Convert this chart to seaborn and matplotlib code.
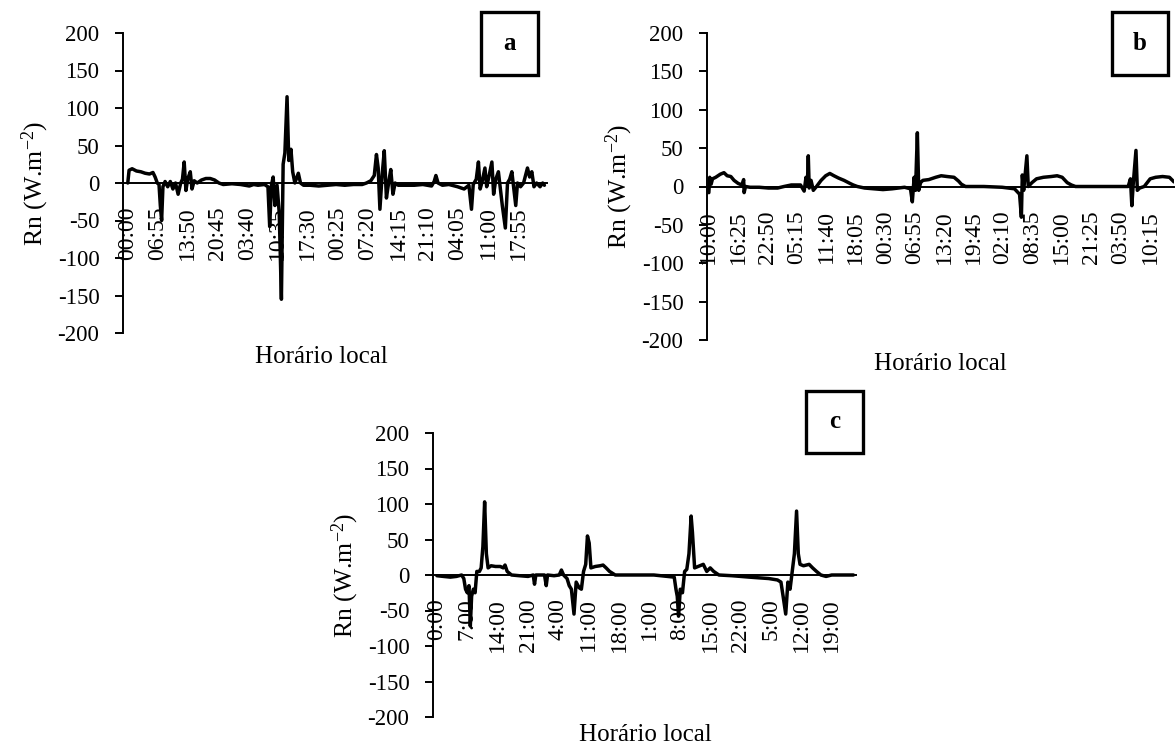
import numpy as np
import pandas as pd
import matplotlib
matplotlib.use("Agg")
import matplotlib.pyplot as plt
import seaborn as sns
from matplotlib.patches import Rectangle

# ---------------- data (hours since start of record, Rn in W.m-2) ----------------
hours_a = [0.0, 0.3, 1.0, 2.0, 3.0, 4.0, 5.0, 5.8, 6.3, 6.8, 7.2, 7.5, 7.8, 8.1, 8.6, 9.2, 9.8,
           10.4, 11.0, 11.6, 12.2, 12.6, 13.0, 13.4, 13.8, 14.4, 14.8, 15.3, 16.0, 17.0, 18.0,
           19.0, 20.0, 21.0, 22.0, 24.0, 26.0, 28.0, 29.0, 30.0, 31.5, 32.3, 32.7, 33.1, 33.5,
           33.9, 34.4, 34.9, 35.4, 35.8, 36.2, 36.7, 37.1, 37.6, 38.0, 38.5, 39.3, 39.8, 40.5,
           42.0, 44.0, 46.0, 48.0, 50.0, 52.0, 54.0, 55.0, 56.0, 56.8, 57.3, 57.7, 58.1, 58.6,
           59.1, 59.6, 60.1, 60.6, 61.1, 61.6, 62.3, 64.0, 66.0, 68.0, 70.0, 70.6, 71.0, 71.5,
           72.5, 74.0, 76.0, 77.5, 78.6, 79.2, 79.6, 80.3, 80.8, 81.2, 81.7, 82.3, 82.7, 83.2,
           83.9, 84.3, 84.8, 85.4, 85.8, 86.3, 87.0, 87.5, 88.0, 88.5, 88.9, 89.4, 89.8, 90.5,
           91.2, 92.1, 92.6, 93.1, 93.6, 94.2, 95.0, 95.6, 96.0]
rn_a = [0, 17, 19, 16, 15, 13, 12, 14, 8, 0, -2, -30, -50, -5, 2, -5, 2,
        -8, 0, -15, 0, 5, 28, -10, 5, 15, -8, 3, 0, 4, 6,
        6, 4, 0, -2, -1, -2, -4, -2, -3, -2, -5, -58, -3, 8,
        -30, -3, -40, -155, 25, 40, 115, 30, 45, 15, 0, 13, 0, -3,
        -3, -4, -3, -2, -3, -2, -2, 0, 3, 10, 38, 20, -35, 10,
        43, -20, 0, 18, -15, 0, -3, -3, -3, -2, -4, 2, 10, 0,
        -3, -2, -5, -8, -3, -35, -2, 5, 28, -8, 3, 20, -5, 8,
        28, -15, 5, 15, -5, -30, -60, 0, 5, 15, -5, -30, 0, -5,
        0, 20, 8, 15, -5, 0, -5, 0, -3]

hours_b = [0.0, 0.2, 0.5, 0.8, 1.5, 2.5, 3.3, 4.0, 4.8, 5.5, 6.4, 7.2, 7.6, 7.7, 8.0, 9.0, 11.0,
           13.0, 15.0, 16.4, 18.0, 20.0, 20.8, 21.2, 21.5, 21.7, 21.9, 22.3, 22.8, 23.5, 24.5,
           25.5, 26.4, 27.3, 28.3, 29.5, 30.8, 31.5, 32.4, 34.0, 36.0, 38.0, 40.0, 42.7, 44.0,
           44.4, 44.8, 45.1, 45.5, 45.8, 46.2, 46.7, 48.0, 49.5, 50.7, 52.0, 53.5, 54.5, 55.1,
           56.0, 60.0, 64.0, 66.7, 67.8, 68.2, 68.4, 68.7, 69.4, 69.7, 70.5, 71.5, 73.0, 74.7,
           76.0, 77.1, 78.2, 79.1, 80.0, 84.0, 88.0, 91.5, 92.0, 92.3, 92.6, 93.2, 93.5, 94.0,
           95.0, 96.3, 97.5, 99.0, 100.5, 101.5]
rn_b = [-8, 12, 3, 10, 12, 16, 18, 14, 13, 8, 4, 2, 9, -8, 0, -1, -1,
        -2, -2, 0, 2, 2, -6, 12, 2, 40, -2, 8, -5, 0, 8,
        14, 17, 14, 11, 8, 4, 2, 0, -2, -3, -4, -3, -1, -3,
        -20, 12, -5, 70, -5, 5, 8, 9, 12, 14, 13, 12, 7, 3,
        0, 0, -1, -3, -10, -40, 15, -5, 40, 0, 5, 10, 12, 13,
        14, 12, 5, 2, 0, 0, 0, 0, 10, -25, 3, 47, -5, -2,
        0, 10, 12, 13, 12, 6]

hours_c = [0.0, 1.5, 3.1, 4.5, 5.7, 6.2, 6.6, 7.0, 7.4, 7.7, 8.0, 8.4, 8.8, 9.2, 9.8, 10.2,
           10.6, 11.0, 11.4, 11.8, 12.5, 13.5, 14.6, 15.3, 15.7, 16.2, 17.2, 19.0, 21.0, 22.2,
           22.5, 22.8, 24.8, 25.2, 25.5, 27.0, 28.2, 28.7, 29.2, 30.0, 30.5, 31.0, 31.6, 32.1,
           32.8, 33.3, 33.8, 34.3, 34.7, 35.1, 35.5, 36.5, 37.6, 38.3, 39.0, 39.8, 41.1, 45.0,
           50.0, 54.7, 55.1, 55.4, 55.7, 56.1, 56.6, 57.1, 57.6, 58.1, 58.6, 58.9, 59.4, 60.2,
           61.4, 62.2, 63.0, 63.8, 65.0, 68.0, 72.0, 76.5, 78.5, 79.3, 79.8, 80.4, 80.9, 81.4,
           81.9, 82.4, 82.9, 83.3, 83.7, 84.5, 85.8, 86.6, 87.5, 88.5, 89.7, 91.0, 94.0, 96.0]
rn_c = [-1, -2, -3, -2, 0, -5, -20, -25, -15, -72, -30, -20, -25, 5, 5, 10,
        40, 103, 30, 10, 13, 12, 12, 10, 14, 5, 0, -1, -2, 0,
        -13, 0, 0, -15, 0, -1, 0, 7, 0, -5, -15, -20, -55, -10,
        -18, -20, 5, 15, 55, 45, 10, 12, 13, 14, 10, 5, 0, 0,
        0, -3, -20, -30, -58, -20, -25, 5, 8, 30, 83, 60, 10, 12,
        15, 5, 10, 5, 0, -1, -3, -5, -7, -10, -30, -55, -10, -20,
        5, 30, 90, 30, 15, 13, 15, 10, 5, 0, -2, 0, 0, 0]

labels_a = ["00:00", "06:55", "13:50", "20:45", "03:40", "10:35", "17:30",
            "00:25", "07:20", "14:15", "21:10", "04:05", "11:00", "17:55"]
labels_b = ["10:00", "16:25", "22:50", "05:15", "11:40", "18:05", "00:30", "06:55",
            "13:20", "19:45", "02:10", "08:35", "15:00", "21:25", "03:50", "10:15"]
labels_c = ["0:00", "7:00", "14:00", "21:00", "4:00", "11:00", "18:00",
            "1:00", "8:00", "15:00", "22:00", "5:00", "12:00", "19:00"]

step_a = 415 / 60.0
step_b = 385 / 60.0
step_c = 420 / 60.0

# ---------------- style ----------------
sns.set_theme(style="white")
plt.rcParams["font.family"] = ["Liberation Serif", "DejaVu Serif"]
plt.rcParams["mathtext.fontset"] = "custom"
plt.rcParams["mathtext.rm"] = "Liberation Serif"
plt.rcParams["mathtext.it"] = "Liberation Serif:italic"
plt.rcParams["axes.unicode_minus"] = False
for k in ["text.color", "axes.labelcolor", "xtick.color", "ytick.color", "axes.edgecolor"]:
    plt.rcParams[k] = "black"

W, H = 1176, 749
fig = plt.figure(figsize=(W / 100, H / 100), dpi=100)


def px_rect(x0, y0, x1, y1):
    return [x0 / W, 1 - y1 / H, (x1 - x0) / W, (y1 - y0) / H]


def panel(rect, hours, vals, labels, step, xlim, letter, box, xlab):
    ax = fig.add_axes(px_rect(*rect))
    df = pd.DataFrame({"h": hours, "rn": vals})
    sns.lineplot(data=df, x="h", y="rn", ax=ax, color="black", linewidth=2.5,
                 estimator=None, sort=False, zorder=5)
    ax.spines["bottom"].set_position(("data", 0))
    ax.spines["top"].set_visible(False)
    ax.spines["right"].set_visible(False)
    for s in ["left", "bottom"]:
        ax.spines[s].set_linewidth(1.4)
        ax.spines[s].set_color("black")
    ax.set_xlim(*xlim)
    ax.set_ylim(-200, 200)
    ax.set_yticks(range(-200, 201, 50))
    ax.set_xticks([i * step for i in range(len(labels))])
    ax.set_xticklabels(labels)
    ax.tick_params(axis="x", length=0, pad=17, labelsize=17, labelrotation=90)
    ax.tick_params(axis="y", left=True, direction="out", length=6, width=1.4,
                   labelsize=16.5, pad=11)
    ax.set_xlabel("")
    ax.set_ylabel(r"Rn (W.m$^{-2}$)", fontsize=18.5, labelpad=5)
    ax.grid(False)
    fig.text(xlab[0] / W, 1 - xlab[1] / H, "Horário local", ha="center", va="center",
             fontsize=18)
    bx0, by0, bx1, by1 = box
    fig.add_artist(Rectangle((bx0 / W, 1 - by1 / H), (bx1 - bx0) / W, (by1 - by0) / H,
                             transform=fig.transFigure, fill=True, facecolor="white",
                             edgecolor="black", linewidth=2.4))
    fig.text((bx0 + bx1) / 2 / W, 1 - (by0 + by1) / 2 / H, letter, ha="center",
             va="center", fontsize=18, fontweight="bold")
    return ax


panel((123, 33, 547, 333), hours_a, rn_a, labels_a, step_a, (-1.1, 96.6), "a",
      (481, 12, 538, 75), (321, 357))
panel((707, 33, 1174, 340), hours_b, rn_b, labels_b, step_b, (-0.4, 101.5), "b",
      (1112, 12, 1168, 75), (940, 364))
panel((433, 433, 856, 717), hours_c, rn_c, labels_c, step_c, (-0.9, 96.6), "c",
      (806, 391, 863, 453), (645, 735))

fig.savefig("out.png", dpi=100, facecolor="white")
